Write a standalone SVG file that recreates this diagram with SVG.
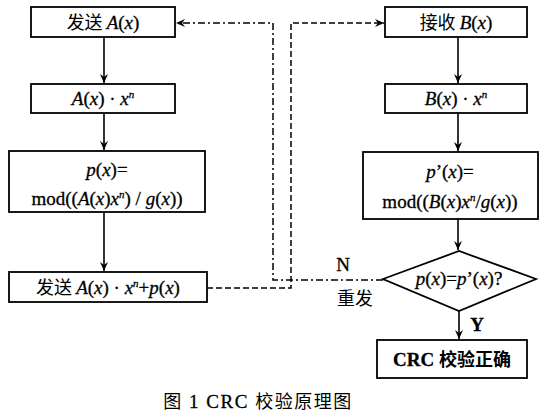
<svg xmlns="http://www.w3.org/2000/svg" width="549" height="415" viewBox="0 0 549 415">
<style>
.box{fill:#fff;stroke:#000;stroke-width:1.8}
.t{font-family:"Liberation Serif","Noto Sans CJK SC",serif;font-size:19px;fill:#000;text-anchor:middle;stroke:#000;stroke-width:0.3}
.i{font-style:italic}
.cjk{font-family:"Noto Sans CJK SC",sans-serif;font-size:18px;stroke-width:0}
.sup{font-size:11px;font-style:italic}
.line{fill:none;stroke:#000;stroke-width:1.6}
.dash{fill:none;stroke:#000;stroke-width:1.5;stroke-dasharray:6,3}
.dashdot{fill:none;stroke:#000;stroke-width:1.5;stroke-dasharray:7,3,2,3}
</style>
<defs>
<marker id="ah" markerWidth="10" markerHeight="10" refX="9" refY="5" orient="auto" markerUnits="userSpaceOnUse">
<path d="M0,1 L9,5 L0,9 L3,5 Z" fill="#000"/>
</marker>
</defs>
<rect width="549" height="415" fill="#fff"/>
<g id="connectors">
<line class="line" x1="104" y1="37" x2="104" y2="83" marker-end="url(#ah)"/>
<line class="line" x1="104" y1="113" x2="104" y2="150" marker-end="url(#ah)"/>
<line class="line" x1="104" y1="212" x2="104" y2="271" marker-end="url(#ah)"/>
<line class="line" x1="458" y1="37" x2="458" y2="83" marker-end="url(#ah)"/>
<line class="line" x1="458" y1="113" x2="458" y2="151" marker-end="url(#ah)"/>
<line class="line" x1="458" y1="219" x2="458" y2="250" marker-end="url(#ah)"/>
<line class="line" x1="459" y1="311" x2="459" y2="339" marker-end="url(#ah)"/>
<polyline class="dash" points="207,288 291,288 291,23 384,23" marker-end="url(#ah)"/>
<polyline class="dashdot" points="383,280 273,280 273,23 176,23" marker-end="url(#ah)"/>
<text class="t" x="343" y="271" font-size="18">N</text>
<text class="t cjk" x="355" y="305">重发</text>
<text class="t" x="477" y="331" font-weight="bold" font-size="18">Y</text>
</g>
<g id="send">
<rect class="box" x="31" y="7" width="144" height="30"/>
<text class="t" x="103" y="29"><tspan class="cjk">发送 </tspan><tspan class="i">A</tspan>(<tspan class="i">x</tspan>)</text>
</g>
<g id="mul">
<rect class="box" x="31" y="84" width="144" height="29"/>
<text class="t" x="103" y="105"><tspan class="i">A</tspan>(<tspan class="i">x</tspan>) · <tspan class="i">x</tspan><tspan class="sup" dy="-7">n</tspan></text>
</g>
<g id="mod">
<rect class="box" x="9" y="151" width="196" height="61"/>
<text class="t" x="107" y="176"><tspan class="i">p</tspan>(<tspan class="i">x</tspan>)=</text>
<text class="t" x="107" y="205" font-size="20">mod((<tspan class="i">A</tspan>(<tspan class="i">x</tspan>)<tspan class="i">x</tspan><tspan class="sup" dy="-7">n</tspan><tspan dy="7">) / </tspan><tspan class="i">g</tspan>(<tspan class="i">x</tspan>))</text>
</g>
<g id="sendall">
<rect class="box" x="9" y="272" width="198" height="30"/>
<text class="t" x="108" y="294"><tspan class="cjk">发送 </tspan><tspan class="i">A</tspan>(<tspan class="i">x</tspan>) · <tspan class="i">x</tspan><tspan class="sup" dy="-7">n</tspan><tspan dy="7">+</tspan><tspan class="i">p</tspan>(<tspan class="i">x</tspan>)</text>
</g>
<g id="recv">
<rect class="box" x="385" y="7" width="142" height="30"/>
<text class="t" x="456" y="29"><tspan class="cjk">接收 </tspan><tspan class="i">B</tspan>(<tspan class="i">x</tspan>)</text>
</g>
<g id="mulb">
<rect class="box" x="385" y="84" width="142" height="29"/>
<text class="t" x="456" y="105"><tspan class="i">B</tspan>(<tspan class="i">x</tspan>) · <tspan class="i">x</tspan><tspan class="sup" dy="-7">n</tspan></text>
</g>
<g id="modb">
<rect class="box" x="363" y="152" width="175" height="67"/>
<text class="t" x="450" y="178"><tspan class="i">p</tspan>’(<tspan class="i">x</tspan>)=</text>
<text class="t" x="450" y="208" font-size="20">mod((<tspan class="i">B</tspan>(<tspan class="i">x</tspan>)<tspan class="i">x</tspan><tspan class="sup" dy="-7">n</tspan><tspan dy="7">/</tspan><tspan class="i">g</tspan>(<tspan class="i">x</tspan>))</text>
</g>
<g id="check">
<polygon class="box" points="383,279 459,251 536,279 459,311"/>
<text class="t" x="459" y="285" font-size="18"><tspan class="i">p</tspan>(<tspan class="i">x</tspan>)=<tspan class="i">p</tspan>’(<tspan class="i">x</tspan>)?</text>
</g>
<g id="ok">
<rect class="box" x="377" y="340" width="150" height="38"/>
<text class="t" x="452" y="366" font-weight="bold" font-size="20"><tspan>CRC </tspan><tspan class="cjk" font-weight="bold" font-size="19">校验正确</tspan></text>
</g>
<g id="caption">
<text class="t" x="258" y="408" font-size="14" letter-spacing="1.5" stroke-width="0"><tspan class="cjk" font-size="14">图</tspan> 1  CRC <tspan class="cjk" font-size="14">校验原理图</tspan></text>
</g>
</svg>
